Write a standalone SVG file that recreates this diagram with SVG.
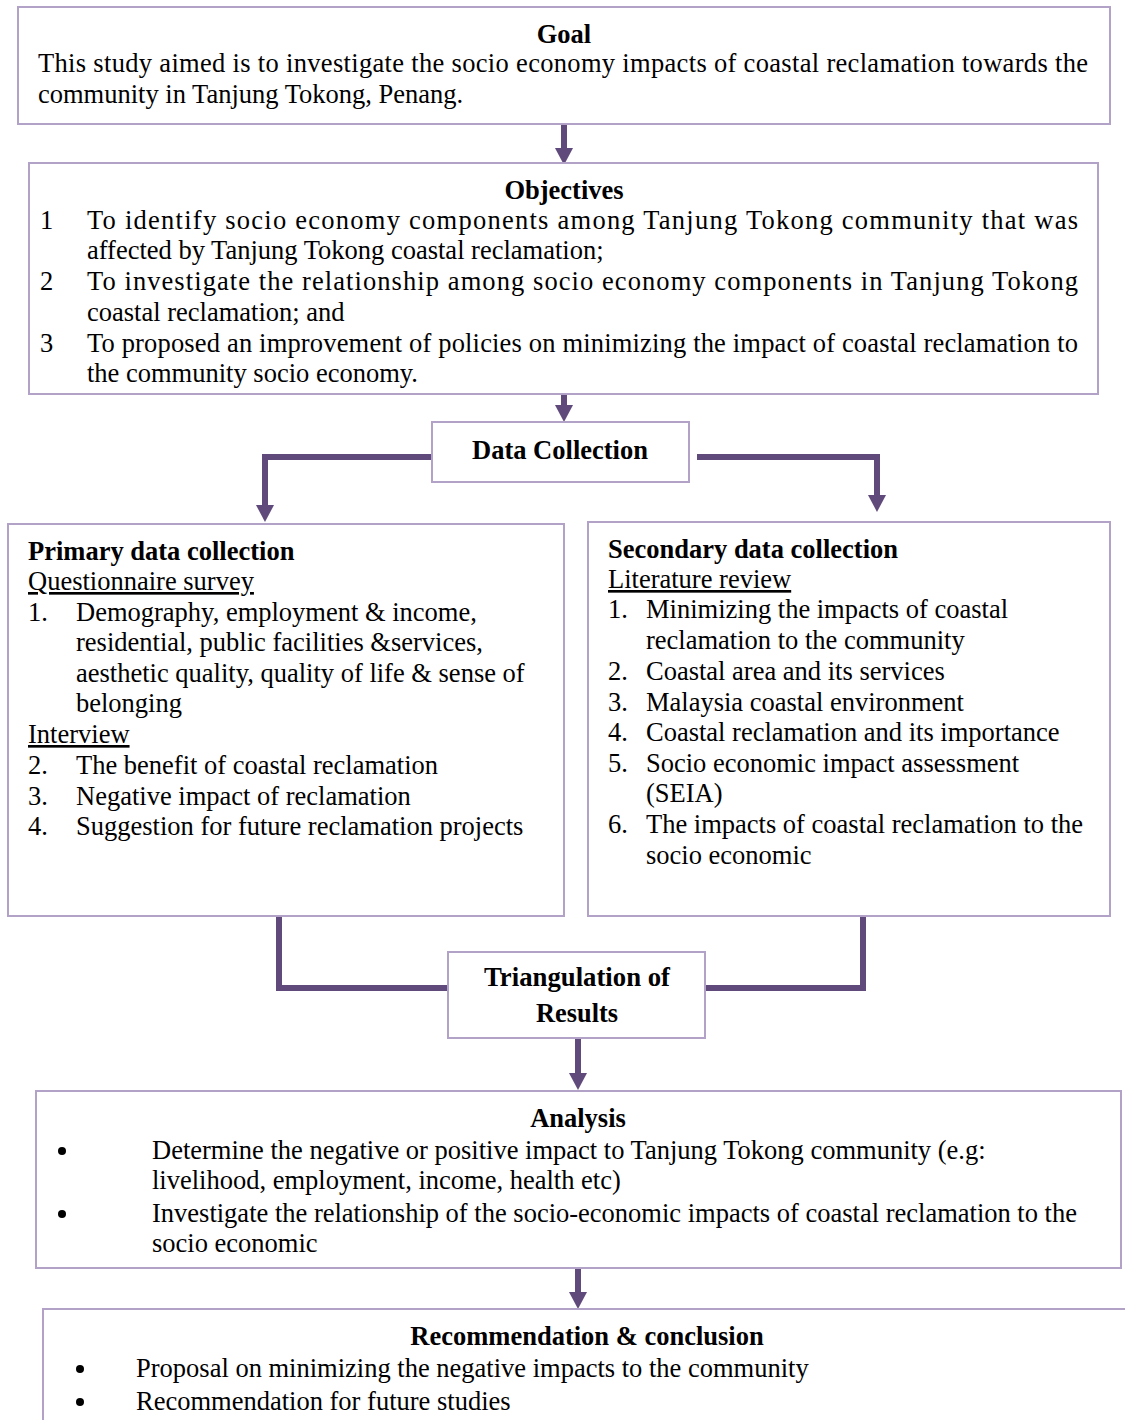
<svg xmlns="http://www.w3.org/2000/svg" width="1125" height="1420" viewBox="0 0 1125 1420">
<style>
.box{fill:#fff;stroke:#B3A2C7;stroke-width:2}
text{font-family:"Liberation Serif","Times New Roman",serif;font-size:26.5px;fill:#000}
.b{font-weight:bold}
.c{text-anchor:middle}
.u{text-decoration:underline}
.con{fill:none;stroke:#604A7B;stroke-width:6}
</style>
<defs>
<marker id="ah" markerUnits="userSpaceOnUse" markerWidth="20" markerHeight="18" viewBox="0 0 20 18" refX="10" refY="0" orient="0">
<path d="M1,0 L19,0 L10,17 Z" fill="#604A7B"/>
</marker>
</defs>
<rect width="1125" height="1420" fill="#fff"/>
<g id="connectors">
<line class="con" x1="564" y1="125" x2="564" y2="148" marker-end="url(#ah)"/>
<line class="con" x1="564" y1="395" x2="564" y2="405" marker-end="url(#ah)"/>
<path class="con" d="M432,457 L265,457 L265,505" marker-end="url(#ah)"/>
<path class="con" d="M697,457 L877,457 L877,495" marker-end="url(#ah)"/>
<path class="con" d="M279,916 L279,988 L448,988"/>
<path class="con" d="M863,916 L863,988 L705,988"/>
<line class="con" x1="578" y1="1039" x2="578" y2="1073" marker-end="url(#ah)"/>
<line class="con" x1="578" y1="1269" x2="578" y2="1292" marker-end="url(#ah)"/>
</g>
<g id="goal">
<rect class="box" x="18" y="7" width="1092" height="117"/>
<text class="b c" x="564" y="43">Goal</text>
<text x="38" y="72" textLength="1050" lengthAdjust="spacing">This study aimed is to investigate the socio economy impacts of coastal reclamation towards the</text>
<text x="38" y="103">community in Tanjung Tokong, Penang.</text>
</g>
<g id="objectives">
<rect class="box" x="29" y="163" width="1069" height="231"/>
<text class="b c" x="564" y="199">Objectives</text>
<text x="40" y="229">1</text>
<text x="87" y="229" textLength="991" lengthAdjust="spacing">To identify socio economy components among Tanjung Tokong community that was</text>
<text x="87" y="259">affected by Tanjung Tokong coastal reclamation;</text>
<text x="40" y="290">2</text>
<text x="87" y="290" textLength="991" lengthAdjust="spacing">To investigate the relationship among socio economy components in Tanjung Tokong</text>
<text x="87" y="321">coastal reclamation; and</text>
<text x="40" y="352">3</text>
<text x="87" y="352" textLength="991" lengthAdjust="spacing">To proposed an improvement of policies on minimizing the impact of coastal reclamation to</text>
<text x="87" y="382">the community socio economy.</text>
</g>
<g id="data-collection">
<rect class="box" x="432" y="422" width="257" height="60"/>
<text class="b" x="472" y="459" textLength="176" lengthAdjust="spacingAndGlyphs">Data Collection</text>
</g>
<g id="primary">
<rect class="box" x="8" y="524" width="556" height="392"/>
<text class="b" x="28" y="560">Primary data collection</text>
<text class="u" x="28" y="590">Questionnaire survey</text>
<text x="28" y="621">1.</text>
<text x="76" y="621">Demography, employment &amp; income,</text>
<text x="76" y="651">residential, public facilities &amp;services,</text>
<text x="76" y="682">aesthetic quality, quality of life &amp; sense of</text>
<text x="76" y="712">belonging</text>
<text class="u" x="28" y="743">Interview</text>
<text x="28" y="774">2.</text>
<text x="76" y="774">The benefit of coastal reclamation</text>
<text x="28" y="805">3.</text>
<text x="76" y="805">Negative impact of reclamation</text>
<text x="28" y="835">4.</text>
<text x="76" y="835">Suggestion for future reclamation projects</text>
</g>
<g id="secondary">
<rect class="box" x="588" y="522" width="522" height="394"/>
<text class="b" x="608" y="558">Secondary data collection</text>
<text class="u" x="608" y="588">Literature review</text>
<text x="608" y="618">1.</text>
<text x="646" y="618">Minimizing the impacts of coastal</text>
<text x="646" y="649">reclamation to the community</text>
<text x="608" y="680">2.</text>
<text x="646" y="680">Coastal area and its services</text>
<text x="608" y="711">3.</text>
<text x="646" y="711">Malaysia coastal environment</text>
<text x="608" y="741">4.</text>
<text x="646" y="741">Coastal reclamation and its importance</text>
<text x="608" y="772">5.</text>
<text x="646" y="772">Socio economic impact assessment</text>
<text x="646" y="802">(SEIA)</text>
<text x="608" y="833">6.</text>
<text x="646" y="833">The impacts of coastal reclamation to the</text>
<text x="646" y="864">socio economic</text>
</g>
<g id="triangulation">
<rect class="box" x="448" y="952" width="257" height="86"/>
<text class="b" x="484" y="986" textLength="186" lengthAdjust="spacingAndGlyphs">Triangulation of</text>
<text class="b" x="536" y="1022" textLength="82" lengthAdjust="spacingAndGlyphs">Results</text>
</g>
<g id="analysis">
<rect class="box" x="36" y="1091" width="1085" height="177"/>
<text class="b c" x="578" y="1127">Analysis</text>
<circle cx="62" cy="1151" r="4"/>
<text x="152" y="1159">Determine the negative or positive impact to Tanjung Tokong community (e.g:</text>
<text x="152" y="1189">livelihood, employment, income, health etc)</text>
<circle cx="62" cy="1214" r="4"/>
<text x="152" y="1222">Investigate the relationship of the socio-economic impacts of coastal reclamation to the</text>
<text x="152" y="1252">socio economic</text>
</g>
<g id="recommendation">
<rect class="box" x="43" y="1309" width="1100" height="200"/>
<text class="b c" x="587" y="1345">Recommendation &amp; conclusion</text>
<circle cx="80" cy="1369" r="4"/>
<text x="136" y="1377">Proposal on minimizing the negative impacts to the community</text>
<circle cx="80" cy="1402" r="4"/>
<text x="136" y="1410">Recommendation for future studies</text>
</g>
</svg>
